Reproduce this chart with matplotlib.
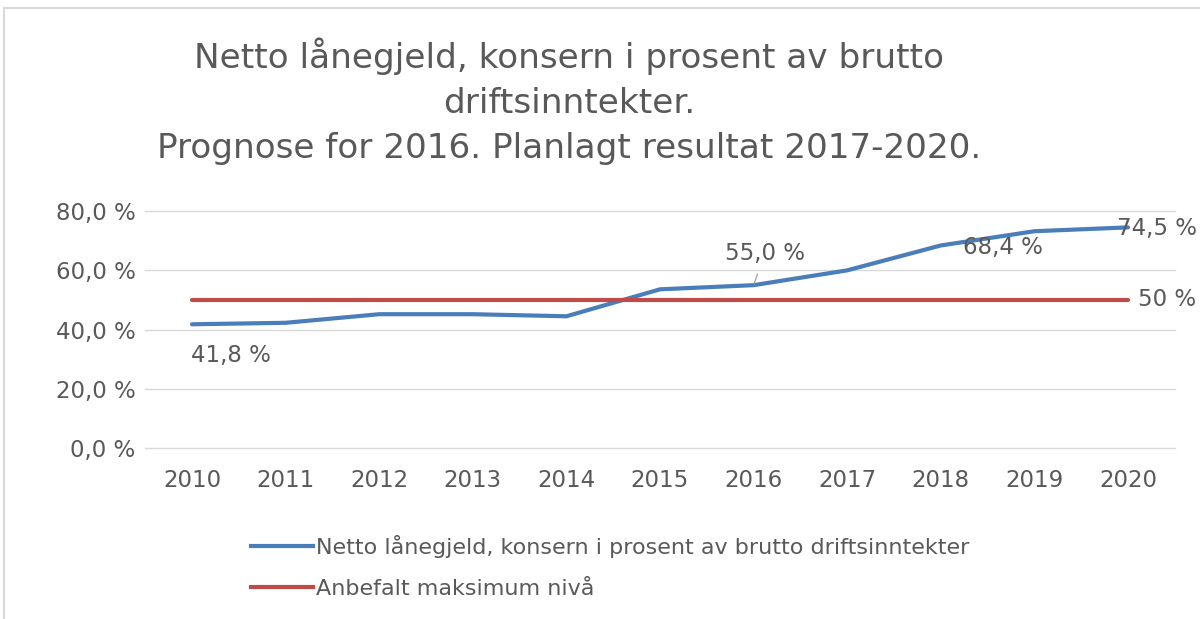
#!/usr/bin/env python3

import matplotlib.pyplot as plt
from matplotlib.lines import Line2D
from matplotlib.patches import Rectangle

# Data
years = [2010, 2011, 2012, 2013, 2014, 2015, 2016, 2017, 2018, 2019, 2020]
netto = [41.8, 42.3, 45.2, 45.2, 44.5, 53.6, 55.0, 60.0, 68.4, 73.2, 74.5]
maks = [50, 50, 50, 50, 50, 50, 50, 50, 50, 50, 50]
yticks = [0, 20, 40, 60, 80]

title = ("Netto lånegjeld, konsern i prosent av brutto\n"
         "driftsinntekter.\n"
         "Prognose for 2016. Planlagt resultat 2017-2020.")
name_netto = "Netto lånegjeld, konsern i prosent av brutto driftsinntekter"
name_maks = "Anbefalt maksimum nivå"

blue = '#4a7ebb'
red = '#be4b48'
grey = '#595959'

plt.rcParams['font.family'] = ['DejaVu Sans']

fig = plt.figure(figsize=(12, 6.19), dpi=100)
fig.patch.set_facecolor('white')
fig.patches.append(Rectangle((0.003, -0.1), 1.2, 1.087, transform=fig.transFigure,
                             fill=False, edgecolor='#d9d9d9', linewidth=1.5))

ax = fig.add_axes([0.121, 0.276, 0.858, 0.383])
x = list(range(len(years)))
ax.plot(x, netto, color=blue, linewidth=3, solid_capstyle='round', zorder=3)
ax.plot(x, maks, color=red, linewidth=3, solid_capstyle='round', zorder=3)

def pct(v):
    return f"{v:.1f}".replace('.', ',') + " %"

ax.set_xlim(-0.5, len(years) - 0.5)
ax.set_ylim(0, 80)
ax.set_yticks(yticks)
ax.set_yticklabels([pct(v) for v in yticks])
ax.set_xticks(x)
ax.set_xticklabels([str(y) for y in years])
ax.grid(axis='y', color='#d9d9d9', linewidth=1)
for gl in ax.get_ygridlines():
    gl.set_clip_on(False)
ax.set_axisbelow(True)
for s in ax.spines.values():
    s.set_visible(False)
ax.tick_params(length=0, colors=grey, labelsize=16.5)
ax.tick_params(axis='y', pad=7)
ax.tick_params(axis='x', pad=15)

# Data labels
lab = dict(color=grey, fontsize=16.5, ha='center', va='center')
ax.annotate(pct(netto[0]), (x[0], netto[0]), xytext=(x[0] + 0.42, netto[0] - 10.4), **lab)
ax.annotate(pct(netto[6]), (x[6], netto[6]), xytext=(x[6] + 0.12, netto[6] + 10.8),
            arrowprops=dict(arrowstyle='-', color='#a0a0a0', lw=0.9, shrinkA=5, shrinkB=1), **lab)
ax.annotate(pct(netto[8]), (x[8], netto[8]), xytext=(x[8] + 0.66, netto[8] - 0.6), **lab)
ax.annotate(pct(netto[10]), (x[10], netto[10]), xytext=(x[10] + 0.31, netto[10] - 0.3), **lab)
ax.annotate(f"{maks[-1]} %", (x[10], maks[10]), xytext=(x[10] + 0.42, maks[10]), **lab)

fig.text(0.474, 0.94, title, ha='center', va='top', fontsize=24.7, color=grey,
         linespacing=1.47)

handles = [Line2D([], [], color=blue, linewidth=3),
           Line2D([], [], color=red, linewidth=3)]
fig.legend(handles, [name_netto, name_maks], loc='upper left',
           bbox_to_anchor=(0.2017, 0.15), frameon=False, fontsize=16,
           labelcolor=grey, handlelength=2.8, handletextpad=0.12, labelspacing=0.95,
           borderaxespad=0)

plt.savefig('out.png', dpi=100, facecolor='white')
